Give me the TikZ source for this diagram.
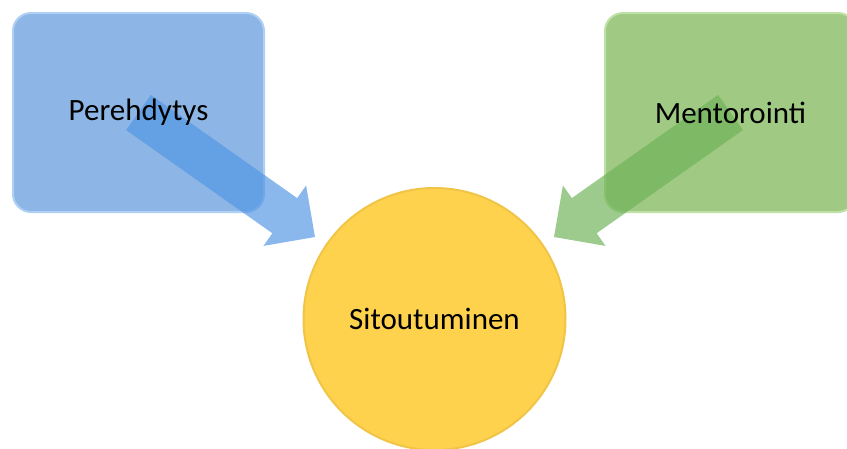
\documentclass[tikz,border=0pt]{standalone}
\usepackage{fontspec}
\setmainfont{Carlito}
\usetikzlibrary{calc}
\definecolor{boxblue}{RGB}{141,182,230}
\definecolor{boxblueedge}{RGB}{175,208,245}
\definecolor{arrblue}{RGB}{82,150,228}
\definecolor{boxgreen}{RGB}{160,202,132}
\definecolor{boxgreenedge}{RGB}{190,225,165}
\definecolor{arrgreen}{RGB}{110,178,88}
\definecolor{sunyellow}{RGB}{255,210,78}
\definecolor{sunedge}{RGB}{240,196,70}
\newcommand{\blkarrow}[3]{%
  \fill[#3]
    ($(#1)!21.5pt!90:(#2)$) --
    ($($(#2)!37pt!(#1)$)!21.5pt!90:(#2)$) --
    ($($(#2)!37pt!(#1)$)!37pt!90:(#2)$) --
    (#2) --
    ($($(#2)!37pt!(#1)$)!37pt!-90:(#2)$) --
    ($($(#2)!37pt!(#1)$)!21.5pt!-90:(#2)$) --
    ($(#1)!21.5pt!-90:(#2)$) -- cycle;}
\begin{document}
\begin{tikzpicture}[x=1pt,y=-1pt,
  boxstyle/.style={rectangle, rounded corners=18pt, minimum width=251pt,
    minimum height=199pt, line width=2pt, outer sep=0pt},
  labeltext/.style={font=\fontsize{31}{37}\selectfont, text=black},
  arrowstyle/.style={fill opacity=0.68}]
\useasboundingbox (0,0) rectangle (847,448);
% boxes
\node[boxstyle, fill=boxblue, draw=boxblueedge] (pbox) at (138.5,112.5) {};
\node[boxstyle, fill=boxgreen, draw=boxgreenedge] (mbox) at (730.5,112.5) {};
% arrow tips
\coordinate (ptip) at (315,237);
\coordinate (mtip) at (554,237);
% block arrows
\blkarrow{pbox.center}{ptip}{arrowstyle, fill=arrblue}
\blkarrow{mbox.center}{mtip}{arrowstyle, fill=arrgreen}
% texts
\node[labeltext] (p) at (pbox.center) {Perehdytys};
\node[labeltext] (m) at (mbox.center) {Mentorointi};
% circle
\node[circle, minimum size=262pt, inner sep=0pt, outer sep=0pt,
  fill=sunyellow, draw=sunedge, line width=2pt, labeltext] (s) at (434.5,319) {Sitoutuminen};
\end{tikzpicture}
\end{document}
